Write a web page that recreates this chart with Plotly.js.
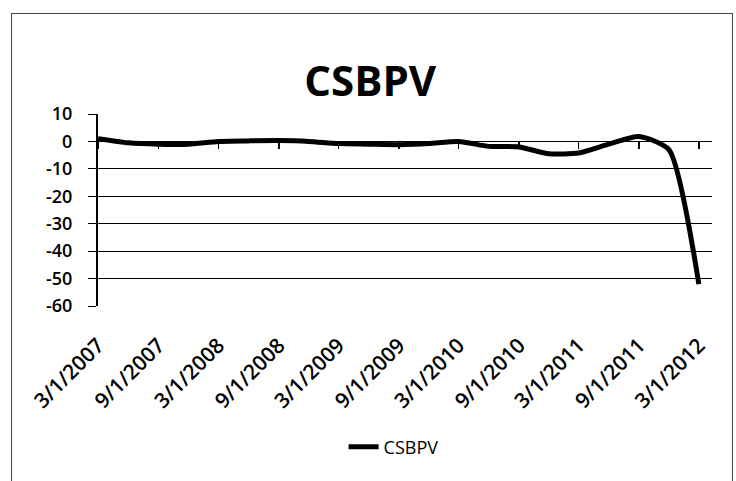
<!DOCTYPE html>
<html>
<head>
<meta charset="utf-8">
<script src="https://cdn.plot.ly/plotly-3.0.1.min.js"></script>
<style>
  html, body { margin: 0; padding: 0; background: #fff; }
  #frame { position: absolute; left: 11px; top: 13px; width: 722px; height: 472px; border: 1px solid #444; box-sizing: border-box; }
  #chart { position: absolute; left: 0; top: 0; width: 736px; height: 481px; }
</style>
</head>
<body>
<div id="frame"></div>
<div id="chart"></div>
<script>
// Quarterly observation dates
const dates = [
  "2007-03-01","2007-06-01","2007-09-01","2007-12-01",
  "2008-03-01","2008-06-01","2008-09-01","2008-12-01",
  "2009-03-01","2009-06-01","2009-09-01","2009-12-01",
  "2010-03-01","2010-06-01","2010-09-01","2010-12-01",
  "2011-03-01","2011-06-01","2011-09-01","2011-12-01",
  "2012-03-01"
];
// CSBPV values
const csbpv = [
  1.0, -0.5, -1.0, -1.0,
  0.0, 0.2, 0.3, 0.0,
  -0.8, -1.0, -1.2, -0.8,
  0.0, -1.8, -2.0, -4.5,
  -4.2, -1.0, 1.8, -3.0,
  -52.0
];
// Axis ticks
const tickDates = ["2007-03-01","2007-09-01","2008-03-01","2008-09-01","2009-03-01","2009-09-01",
                   "2010-03-01","2010-09-01","2011-03-01","2011-09-01","2012-03-01"];
const tickLabels = ["3/1/2007","9/1/2007","3/1/2008","9/1/2008","3/1/2009","9/1/2009",
                    "3/1/2010","9/1/2010","3/1/2011","9/1/2011","3/1/2012"];
const yTicks = [10, 0, -10, -20, -30, -40, -50, -60];

const trace = {
  x: dates, y: csbpv, type: "scatter", mode: "lines", name: "CSBPV",
  line: { color: "#000", width: 5, shape: "spline", smoothing: 0.6 }
};
// invisible trace to attach the zero-crossing tick axis
const tickTrace = { x: dates, y: csbpv, xaxis: "x2", type: "scatter", mode: "none", showlegend: false, hoverinfo: "skip" };

const layout = {
  width: 736, height: 481,
  paper_bgcolor: "rgba(0,0,0,0)", plot_bgcolor: "rgba(0,0,0,0)",
  margin: { l: 98, r: 24, t: 114, b: 175 },
  title: { text: "<b>CSBPV</b>", x: 0.503, xanchor: "center", y: 1 - 81/481, yref: "container", yanchor: "middle",
           font: { family: "Open Sans, sans-serif", size: 42, color: "#000" } },
  font: { family: "Open Sans, sans-serif", color: "#000" },
  xaxis: {
    type: "date", range: ["2007-03-01", "2012-04-10"],
    tickmode: "array", tickvals: tickDates, ticktext: tickLabels, tickangle: -45,
    tickfont: { size: 21, family: "Open Sans, sans-serif", color: "#000", weight: 600 },
    ticklabelstandoff: 22,
    showgrid: false, zeroline: false, showline: false, ticks: "", ticklen: 0
  },
  xaxis2: {
    type: "date", overlaying: "x", anchor: "free", position: 60/70, matches: "x",
    tickmode: "array", tickvals: tickDates, showticklabels: false,
    ticks: "outside", ticklen: 7, tickcolor: "#000", tickwidth: 1.5,
    showgrid: false, zeroline: false, showline: false
  },
  yaxis: {
    range: [-60, 10], tickmode: "array", tickvals: yTicks, ticktext: yTicks.map(String),
    tickfont: { size: 18, family: "Open Sans, sans-serif", color: "#000", weight: 600 },
    ticklabelstandoff: 12,
    showgrid: true, gridcolor: "#000", gridwidth: 1,
    zeroline: false, showline: true, linecolor: "#000", linewidth: 2,
    ticks: "outside", ticklen: 8, tickcolor: "#000"
  },
  showlegend: true,
  legend: { orientation: "h", x: 0.40, xanchor: "left", y: 1 - 447/481, yref: "container", yanchor: "middle",
            font: { size: 18, family: "Open Sans, sans-serif", color: "#000" } }
};

Plotly.newPlot("chart", [trace, tickTrace], layout, { displayModeBar: false, staticPlot: true });
</script>
</body>
</html>
